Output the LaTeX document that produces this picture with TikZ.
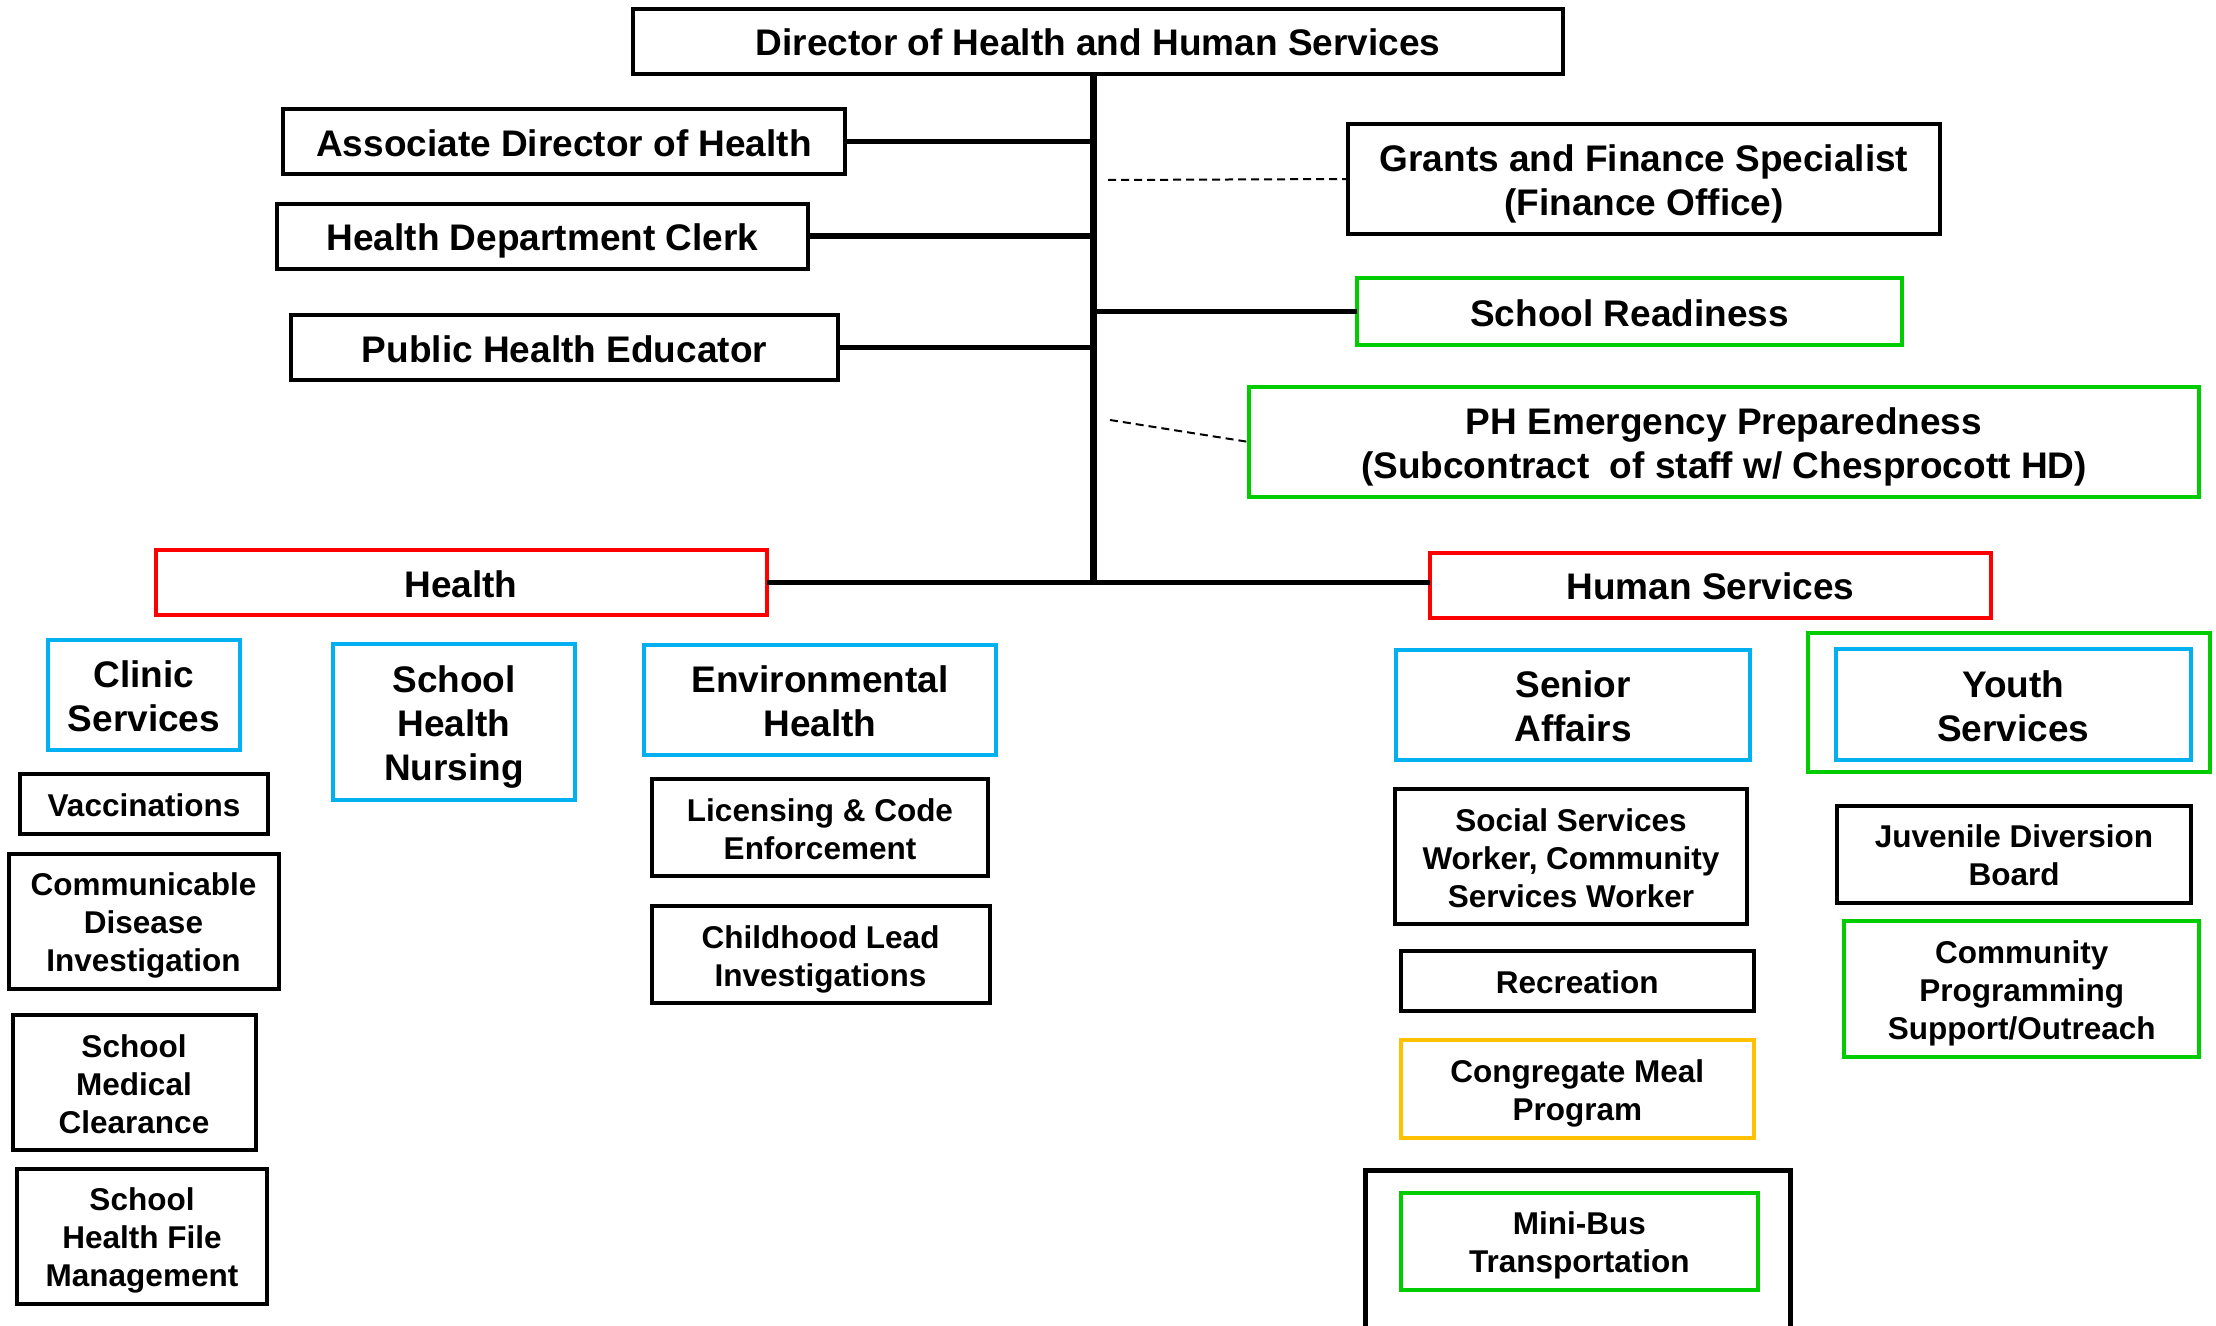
\documentclass[tikz,border=0pt]{standalone}
\usepackage{fontspec}
\setmainfont{Liberation Sans}
\definecolor{cred}{HTML}{FF0000}
\definecolor{cblue}{HTML}{00B0F0}
\definecolor{cgreen}{HTML}{00CC00}
\definecolor{corange}{HTML}{FFC000}
\newcommand\bigtxt{\fontsize{37}{44}\selectfont\bfseries}
\newcommand\smalltxt{\fontsize{31.5}{38}\selectfont\bfseries}
\newcommand\stA{\rule{0pt}{1.0em}}
\newcommand\stB{\rule[-0.2em]{0pt}{0.2em}}
\tikzset{
  box/.style={draw=black, line width=4pt, inner sep=0pt, outer sep=0pt, align=center, font=\bigtxt},
  sbox/.style={box, font=\smalltxt},
  redbox/.style={box, draw=cred},
  bluebox/.style={box, draw=cblue},
  greenbox/.style={box, draw=cgreen},
  sgreenbox/.style={sbox, draw=cgreen},
  orangebox/.style={sbox, draw=corange},
  frame/.style={draw=black, inner sep=0pt, outer sep=0pt},
  wh/.style 2 args={minimum width=#1pt, minimum height=#2pt},
  trunkline/.style={line width=7pt},
  conn/.style={line width=5.5pt},
  dashline/.style={line width=2pt, dash pattern=on 8pt off 5pt},
}
\begin{document}
\begin{tikzpicture}[x=1pt,y=-1pt]
\useasboundingbox (0,0) rectangle (2216,1325);
% top level
\node[box, wh={930}{65}] (dir) at (1098,41) {\stA Director of Health and Human Services\stB};
\node[box, wh={562}{65}] (assoc) at (564,141.5) {\stA Associate Director of Health\stB};
\node[box, wh={531}{65}] (clerk) at (542.5,236) {\stA Health Department Clerk\stB};
\node[box, wh={547}{65}] (educ) at (564.5,347.5) {\stA Public Health Educator\stB};
\node[box, wh={592}{110}] (grants) at (1644,179) {\stA Grants and Finance Specialist\\(Finance Office)\stB};
\node[greenbox, wh={545}{67}] (sr) at (1629.5,311.5) {\stA School Readiness\stB};
\node[greenbox, wh={950}{110}] (ph) at (1724,442) {\stA PH Emergency Preparedness\\(Subcontract\ \ of staff w/ Chesprocott HD)\stB};
\node[redbox, wh={611}{65}] (health) at (461,582.5) {\stA Health\stB};
\node[redbox, wh={561}{65}] (hs) at (1710.5,585) {\stA Human Services\stB};
% connectors
\coordinate (tr) at (1093,582);
\coordinate (gd) at (1108,180);
\coordinate (pd) at (1110,420);
\draw[trunkline] (dir.south -| tr) -- (tr);
\draw[conn] (assoc.east) -- (assoc.east -| tr);
\draw[conn] (clerk.east) -- (clerk.east -| tr);
\draw[conn] (educ.east) -- (educ.east -| tr);
\draw[conn] (sr.west) -- (sr.west -| tr);
\draw[conn] (health.east) -- (health.east -| hs.west);
\draw[dashline] (gd) -- (grants.west);
\draw[dashline] (pd) -- (ph.west);
% Health branch
\node[bluebox, wh={192}{110}] (clinic) at (144,695) {\stA Clinic\\Services\stB};
\node[bluebox, wh={241.5}{155.5}] (shn) at (454,722) {\stA School\\Health\\Nursing\stB};
\node[bluebox, wh={351.5}{110}] (env) at (820,699.5) {\stA Environmental\\Health\stB};
\node[sbox, wh={248.5}{59.5}] (vacc) at (144,804) {\stA Vaccinations\stB};
\node[sbox, wh={270}{135.7}] (cdi) at (143.5,921.5) {\stA Communicable\\Disease\\Investigation\stB};
\node[sbox, wh={243}{135.7}] (smc) at (134,1082.5) {\stA School\\Medical\\Clearance\stB};
\node[sbox, wh={250}{135.7}] (shf) at (142,1236.5) {\stA School\\Health File\\Management\stB};
\node[sbox, wh={336.5}{97.5}] (lic) at (820,827.5) {\stA Licensing \& Code\\Enforcement\stB};
\node[sbox, wh={338}{97.5}] (lead) at (820.5,954.7) {\stA Childhood Lead\\Investigations\stB};
% Human services branch
\node[bluebox, wh={353.4}{110.4}] (senior) at (1573,705) {\stA Senior\\Affairs\stB};
\node[frame, draw=cgreen, line width=4pt, wh={402.8}{138.7}] (youthframe) at (2009,702.4) {};
\node[bluebox, wh={354.6}{111.7}] (youth) at (2013.3,704.5) {\stA Youth\\Services\stB};
\node[sbox, wh={352}{135.7}] (ssw) at (1571,856.5) {\stA Social Services\\Worker, Community\\Services Worker\stB};
\node[sbox, wh={353.4}{59.5}] (rec) at (1577.3,980.8) {\stA Recreation\stB};
\node[sbox, wh={353.3}{97.5}] (jdb) at (2014,854.3) {\stA Juvenile Diversion\\Board\stB};
\node[sgreenbox, wh={354.7}{135.7}] (cps) at (2021.7,989.3) {\stA Community\\Programming\\Support/Outreach\stB};
\node[orangebox, wh={353.4}{97.5}] (meal) at (1577.3,1089) {\stA Congregate Meal\\Program\stB};
\node[frame, line width=5pt, wh={425.7}{160}] (busframe) at (1578,1250) {};
\node[sgreenbox, wh={357.6}{97.5}] (bus) at (1579.3,1241.5) {\stA Mini-Bus\\Transportation\stB};
\end{tikzpicture}
\end{document}
